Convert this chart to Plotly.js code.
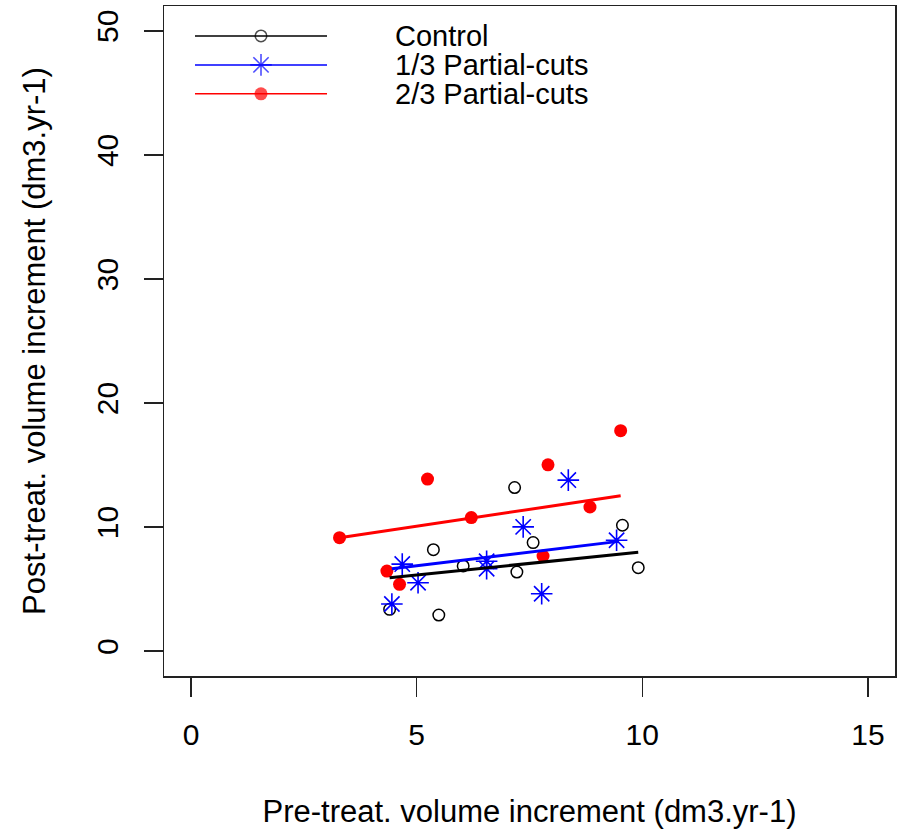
<!DOCTYPE html>
<html>
<head>
<meta charset="utf-8">
<script src="https://cdn.plot.ly/plotly-3.0.1.min.js"></script>
<style>
  html, body { margin: 0; padding: 0; background: #ffffff; }
  #chart { width: 898px; height: 832px; }
</style>
</head>
<body>
<div id="chart"></div>
<script>
// Pre- vs post-treatment volume increment per tree (dm3.yr-1)
const controlX = [7.17, 9.56, 7.58, 5.37, 7.22, 9.91, 4.40, 5.49, 6.03];
const controlY = [13.19, 10.15, 8.75, 8.18, 6.38, 6.73, 3.37, 2.91, 6.87];

const third1X = [8.36, 7.36, 9.43, 4.68, 6.55, 6.55, 5.03, 4.45, 7.77];
const third1Y = [13.79, 10.02, 8.94, 7.02, 7.25, 6.65, 5.52, 3.80, 4.63];

const third2X = [3.29, 5.24, 6.21, 7.91, 8.84, 4.34, 4.62, 7.80, 9.52];
const third2Y = [9.15, 13.87, 10.77, 15.02, 11.62, 6.46, 5.39, 7.67, 17.77];

// fitted lines (model predictions at the ends of each group's range)
const controlFitX = [4.40, 9.91];
const controlFitY = [5.92, 7.97];
const third1FitX = [4.45, 9.48];
const third1FitY = [6.65, 8.85];
const third2FitX = [3.29, 9.52];
const third2FitY = [9.15, 12.52];

const groupNames = ['Control', '1/3 Partial-cuts', '2/3 Partial-cuts'];
const xTicks = [0, 5, 10, 15];
const yTicks = [0, 10, 20, 30, 40, 50];

const FONT = 'Liberation Sans, Arial, sans-serif';
const AXIS_COL = '#222222';

const styles = [
  { color: '#000000', symbol: 'circle-open', size: 11.5, lw: 1.5 },
  { color: '#0000ff', symbol: 'asterisk-open', size: 18, lw: 1.6 },
  { color: '#ff0000', symbol: 'circle', size: 13, lw: 0 }
];

function pts(x, y, s) {
  return {
    x: x, y: y, type: 'scatter', mode: 'markers', showlegend: false,
    hoverinfo: 'x+y',
    marker: { symbol: s.symbol, size: s.size, color: s.color,
              line: { color: s.color, width: s.lw } }
  };
}
function fit(x, y, s) {
  return {
    x: x, y: y, type: 'scatter', mode: 'lines', showlegend: false,
    hoverinfo: 'skip',
    line: { color: s.color, width: 3 }
  };
}

// key: sample line with the group's symbol at its middle, on an overlay axis in [0,1]
const keyX = [0.0424, 0.1327, 0.223];
const keyRows = [0.9553, 0.9121, 0.8689];
const keyTextX = 0.313;

const keyTraces = styles.map((s, i) => ({
  x: keyX, y: [keyRows[i], keyRows[i], keyRows[i]],
  xaxis: 'x2', yaxis: 'y2', type: 'scatter', mode: 'lines+markers',
  showlegend: false, hoverinfo: 'skip',
  line: { color: s.color, width: 1.5 },
  marker: { symbol: s.symbol, size: [0, s.size, 0], color: s.color,
            line: { color: s.color, width: s.lw } }
}));

const data = [
  pts(controlX, controlY, styles[0]),
  pts(third1X, third1Y, styles[1]),
  pts(third2X, third2Y, styles[2]),
  fit(controlFitX, controlFitY, styles[0]),
  fit(third1FitX, third1FitY, styles[1]),
  fit(third2FitX, third2FitY, styles[2])
].concat(keyTraces);

const annotations = groupNames.map((name, i) => ({
  xref: 'paper', yref: 'paper', x: keyTextX, y: keyRows[i],
  xanchor: 'left', yanchor: 'middle', showarrow: false,
  text: name, font: { family: FONT, size: 29, color: '#000000' }
}));

const axisCommon = {
  showgrid: false, zeroline: false,
  showline: true, mirror: true, linecolor: AXIS_COL, linewidth: 1.5,
  ticks: 'outside', ticklen: 19, tickwidth: 1.5, tickcolor: AXIS_COL,
  tickfont: { family: FONT, size: 30, color: '#000000' },
  fixedrange: true
};

const layout = {
  width: 898, height: 832,
  margin: { l: 164, r: 3, t: 6, b: 156 },
  paper_bgcolor: '#ffffff', plot_bgcolor: '#ffffff',
  font: { family: FONT, color: '#000000' },
  showlegend: false,
  xaxis: Object.assign({}, axisCommon, {
    range: [-0.6, 15.6], tickmode: 'array', tickvals: xTicks,
    ticklabelstandoff: 12,
    title: { text: 'Pre-treat. volume increment (dm3.yr-1)',
             font: { family: FONT, size: 31, color: '#000000' }, standoff: 51 }
  }),
  yaxis: Object.assign({}, axisCommon, {
    range: [-2, 52], tickmode: 'array', tickvals: yTicks,
    tickangle: -90, ticklabelstandoff: 14,
    title: { text: 'Post-treat. volume increment (dm3.yr-1)',
             font: { family: FONT, size: 31, color: '#000000' }, standoff: 35 }
  }),
  xaxis2: { overlaying: 'x', range: [0, 1], visible: false, fixedrange: true },
  yaxis2: { overlaying: 'y', range: [0, 1], visible: false, fixedrange: true },
  annotations: annotations
};

Plotly.newPlot('chart', data, layout, { displayModeBar: false, staticPlot: true });
</script>
</body>
</html>
